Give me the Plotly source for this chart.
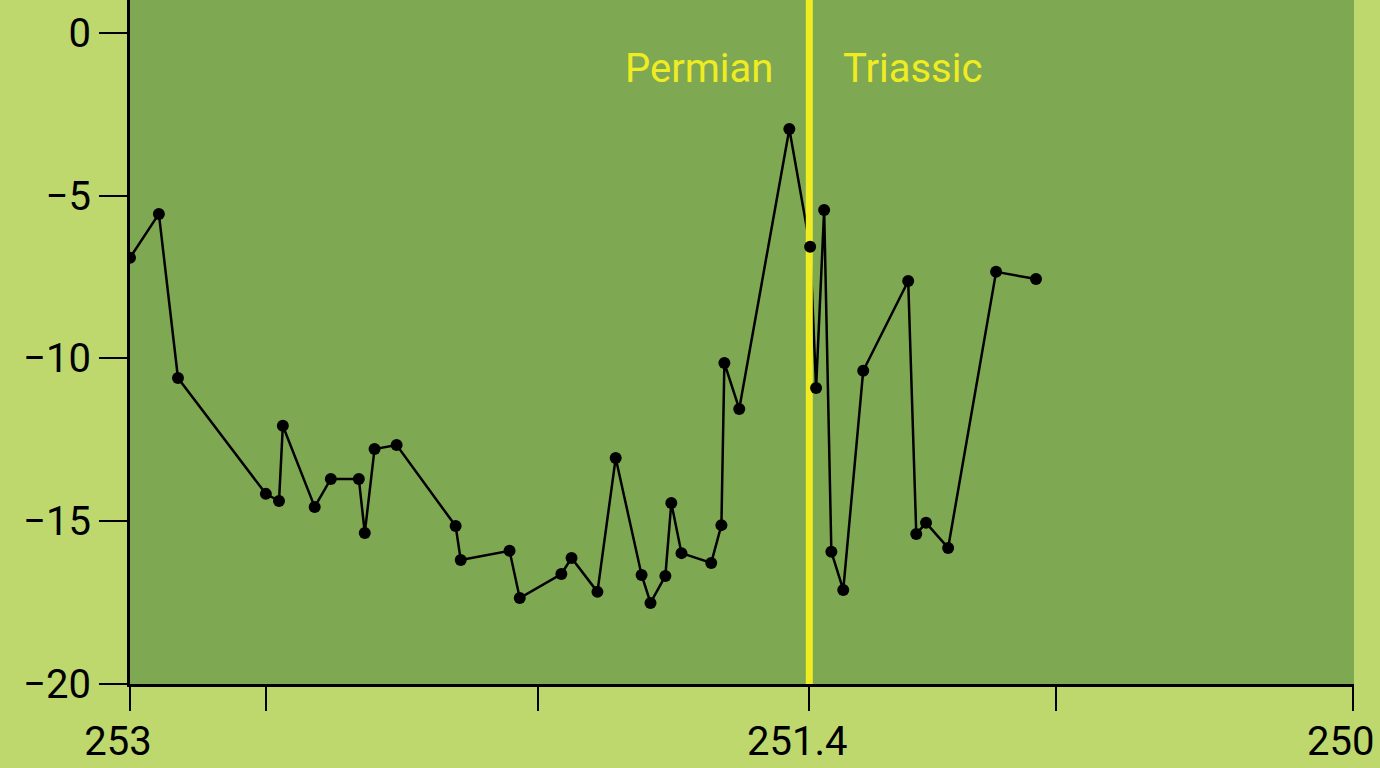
import plotly.graph_objects as go

# Age (Ma) and δ13C-like values
age_ma = [253.000, 252.932, 252.887, 252.680, 252.649, 252.640, 252.565, 252.527,
          252.461, 252.447, 252.424, 252.372, 252.233, 252.221, 252.106, 252.082,
          251.984, 251.960, 251.899, 251.856, 251.795, 251.774, 251.739, 251.725,
          251.701, 251.631, 251.607, 251.600, 251.565, 251.447, 251.398, 251.384,
          251.365, 251.348, 251.320, 251.273, 251.167, 251.148, 251.125, 251.073,
          250.960, 250.866]
values = [-6.91, -5.56, -10.60, -14.16, -14.38, -12.07, -14.56, -13.70,
          -13.70, -15.36, -12.78, -12.66, -15.15, -16.19, -15.91, -17.36,
          -16.62, -16.13, -17.17, -13.06, -16.65, -17.51, -16.68, -14.44,
          -15.98, -16.28, -15.12, -10.14, -11.55, -2.95, -6.57, -10.91,
          -5.44, -15.94, -17.11, -10.38, -7.62, -15.39, -15.05, -15.82,
          -7.34, -7.56]

boundary_ma = 251.4
period_labels = ["Permian", "Triassic"]

x_range = [253.0, 250.117]
y_range = [-20.0, 1.01]
x_tickvals = [253.0, 252.68, 252.04, 251.4, 250.82, 250.12]
x_ticktext = ["253", "", "", "251.4", "", "250"]
y_tickvals = [0, -5, -10, -15, -20]
y_ticktext = ["0", "\u22125", "\u221210", "\u221215", "\u221220"]

PLOT_BG = "#7FA852"
PAPER_BG = "#BED86E"
YELLOW = "#F0EC22"
FONT = "Roboto"

fig = go.Figure()
fig.add_trace(go.Scatter(x=age_ma, y=values, mode="lines",
                         line=dict(color="black", width=2.5), hoverinfo="skip",
                         showlegend=False))
fig.add_trace(go.Scatter(x=[boundary_ma, boundary_ma], y=y_range, mode="lines",
                         line=dict(color=YELLOW, width=7), hoverinfo="skip",
                         showlegend=False))
fig.add_trace(go.Scatter(x=age_ma, y=values, mode="markers",
                         marker=dict(color="black", size=12), showlegend=False))

fig.add_annotation(x=boundary_ma, y=-1.1, text=period_labels[0], showarrow=False,
                   xanchor="right", yanchor="middle", xshift=-34,
                   font=dict(family=FONT, size=40, color=YELLOW))
fig.add_annotation(x=boundary_ma, y=-1.1, text=period_labels[1], showarrow=False,
                   xanchor="left", yanchor="middle", xshift=32,
                   font=dict(family=FONT, size=40, color=YELLOW))

fig.update_xaxes(range=x_range, tickvals=x_tickvals, ticktext=x_ticktext,
                 showgrid=False, zeroline=False, showline=True, linecolor="black",
                 linewidth=3, ticks="outside", ticklen=24, tickwidth=2,
                 tickcolor="black", ticklabelshift=12, ticklabelstandoff=-4,
                 ticklabeloverflow="allow",
                 tickfont=dict(family=FONT, size=40, color="black"))
fig.update_yaxes(range=y_range, tickvals=y_tickvals, ticktext=y_ticktext,
                 showgrid=False, zeroline=False, showline=True, linecolor="black",
                 linewidth=3, ticks="outside", ticklen=28, tickwidth=2,
                 tickcolor="black", ticklabeloverflow="allow",
                 tickfont=dict(family=FONT, size=40, color="black"))

fig.update_layout(width=1380, height=768, plot_bgcolor=PLOT_BG, paper_bgcolor=PAPER_BG,
                  margin=dict(l=130, r=26, t=0, b=84), showlegend=False)

fig.write_html("out.html", config={"displayModeBar": False},
               post_script="document.body.style.margin='0';document.body.style.padding='0';document.body.style.overflow='hidden';")
